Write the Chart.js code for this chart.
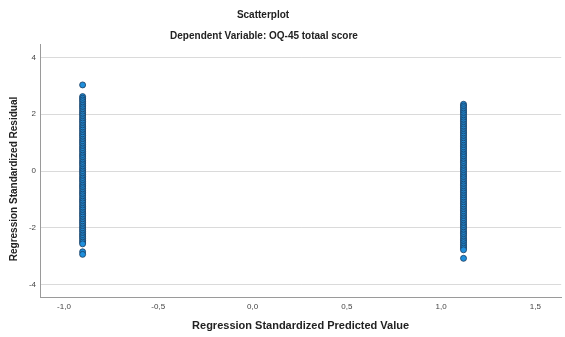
<!DOCTYPE html>
<html>
<head>
<meta charset="utf-8">
<title>Scatterplot</title>
<script src="https://cdn.jsdelivr.net/npm/chart.js@4.4.1/dist/chart.umd.min.js"></script>
<style>
  html, body { margin: 0; padding: 0; background: #ffffff; }
  #wrap { width: 565px; height: 337px; }
</style>
</head>
<body>
<div id="wrap"><canvas id="plot" width="565" height="337"></canvas></div>
<script>
// Standardized predicted value of each group (binary predictor)
const groupPredicted = [-0.901, 1.119];

// Standardized residuals, group 1 (predicted -0,9)
const residualsGroup1 = [
  3.03,
  2.62, 2.56, 2.50, 2.44, 2.37, 2.31, 2.25, 2.19, 2.12, 2.06, 2.00, 1.94, 1.87, 1.81,
  1.75, 1.69, 1.62, 1.56, 1.50, 1.44, 1.37, 1.31, 1.25, 1.19, 1.12, 1.06, 1.00, 0.94,
  0.87, 0.81, 0.75, 0.69, 0.62, 0.56, 0.50, 0.44, 0.37, 0.31, 0.25, 0.19, 0.12, 0.06,
  0.00, -0.06, -0.12, -0.19, -0.25, -0.31, -0.37, -0.44, -0.50, -0.56, -0.62, -0.69,
  -0.75, -0.81, -0.87, -0.94, -1.00, -1.06, -1.12, -1.19, -1.25, -1.31, -1.37, -1.44,
  -1.50, -1.56, -1.62, -1.69, -1.75, -1.81, -1.87, -1.94, -2.00, -2.06, -2.12, -2.19,
  -2.25, -2.31, -2.37, -2.44, -2.50, -2.56,
  -2.84, -2.93
];

// Standardized residuals, group 2 (predicted 1,1)
const residualsGroup2 = [
  2.35, 2.29, 2.23, 2.16, 2.10, 2.04, 1.98, 1.91, 1.85, 1.79, 1.73, 1.66, 1.60, 1.54,
  1.48, 1.41, 1.35, 1.29, 1.23, 1.16, 1.10, 1.04, 0.98, 0.91, 0.85, 0.79, 0.73, 0.66,
  0.60, 0.54, 0.48, 0.41, 0.35, 0.29, 0.23, 0.16, 0.10, 0.04, -0.02, -0.09, -0.15,
  -0.21, -0.27, -0.34, -0.40, -0.46, -0.52, -0.59, -0.65, -0.71, -0.77, -0.84, -0.90,
  -0.96, -1.02, -1.09, -1.15, -1.21, -1.27, -1.34, -1.40, -1.46, -1.52, -1.59, -1.65,
  -1.71, -1.77, -1.84, -1.90, -1.96, -2.02, -2.09, -2.15, -2.21, -2.27, -2.34, -2.40,
  -2.46, -2.52, -2.59, -2.65, -2.71, -2.77,
  -3.07
];

// Axis ticks
const xTicks = [-1.0, -0.5, 0.0, 0.5, 1.0, 1.5];
const yTicks = [-4, -2, 0, 2, 4];

// Text
const chartTitle = 'Scatterplot';
const chartSubtitle = 'Dependent Variable: OQ-45 totaal score';
const xAxisTitle = 'Regression Standardized Predicted Value';
const yAxisTitle = 'Regression Standardized Residual';

const points = [];
[residualsGroup1, residualsGroup2].forEach((list, g) => {
  list.forEach(r => points.push({ x: groupPredicted[g], y: r }));
});

const fmtComma = (v, digits) => {
  const s = Number(v).toFixed(digits).replace('.', ',');
  return s === '-0,0' ? '0,0' : s;
};

const FONT = '"Liberation Sans", Arial, sans-serif';

// Header lines and the rotated residual label, placed like the SPSS output
const headerText = {
  id: 'headerText',
  afterDraw(chart) {
    const ctx = chart.ctx;
    ctx.save();
    ctx.fillStyle = '#222222';
    ctx.textAlign = 'center';
    ctx.textBaseline = 'middle';
    ctx.font = 'bold 10px ' + FONT;
    ctx.fillText(chartTitle, 263, 15);
    ctx.fillText(chartSubtitle, 264, 36.5);
    ctx.translate(14, 179);
    ctx.rotate(-Math.PI / 2);
    ctx.font = 'bold 10px ' + FONT;
    ctx.fillText(yAxisTitle, 0, 0);
    ctx.restore();
  }
};

new Chart(document.getElementById('plot'), {
  type: 'scatter',
  data: {
    datasets: [{
      data: points,
      pointRadius: 3,
      pointHoverRadius: 3,
      pointBackgroundColor: '#1f8fdc',
      pointBorderColor: '#1b3a5c',
      pointBorderWidth: 0.8
    }]
  },
  plugins: [headerText],
  options: {
    responsive: false,
    animation: false,
    devicePixelRatio: 1,
    layout: { padding: { left: 0, right: 2, top: 44, bottom: 0 } },
    plugins: {
      legend: { display: false },
      tooltip: { enabled: false },
      title: { display: false },
      subtitle: { display: false }
    },
    scales: {
      x: {
        type: 'linear',
        min: -1.127,
        max: 1.637,
        afterBuildTicks: axis => { axis.ticks = xTicks.map(v => ({ value: v })); },
        afterFit: axis => { axis.height = 40; },
        grid: { display: false, drawTicks: false },
        border: { display: true, color: '#9a9a9a', width: 1 },
        ticks: {
          padding: 5,
          color: '#444444',
          font: { family: FONT, size: 8 },
          maxRotation: 0,
          autoSkip: false,
          callback: v => fmtComma(v, 1)
        },
        title: {
          display: true,
          text: xAxisTitle,
          color: '#222222',
          font: { family: FONT, size: 11, weight: 'bold' },
          padding: { top: 0, bottom: 4.5 }
        }
      },
      y: {
        type: 'linear',
        min: -4.43,
        max: 4.47,
        afterBuildTicks: axis => { axis.ticks = yTicks.map(v => ({ value: v })); },
        afterFit: axis => { axis.width = 40; },
        grid: { display: true, color: '#dadada', lineWidth: 1, drawTicks: false },
        border: { display: true, color: '#9a9a9a', width: 1 },
        ticks: {
          padding: 4,
          color: '#444444',
          font: { family: FONT, size: 8 },
          autoSkip: false,
          callback: v => String(v)
        },
        title: { display: false }
      }
    }
  }
});
</script>
</body>
</html>
